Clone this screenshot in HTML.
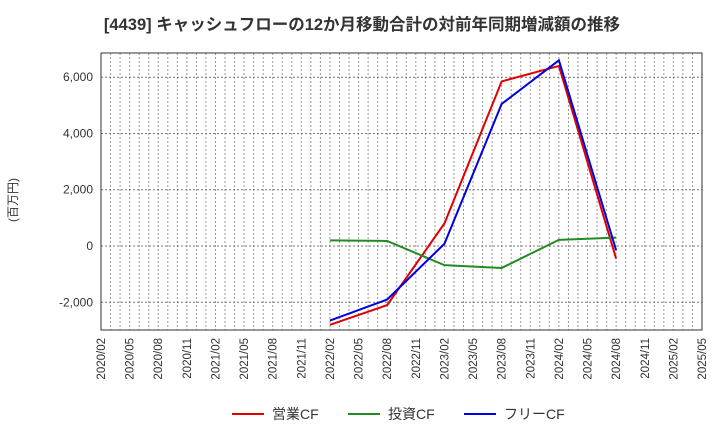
<!DOCTYPE html>
<html><head><meta charset="utf-8"><style>
body{margin:0;background:#fff;font-family:"Liberation Sans","Noto Sans CJK JP",sans-serif;}
</style></head><body>
<svg id="c" width="720" height="440" xmlns="http://www.w3.org/2000/svg" font-family="Liberation Sans, Noto Sans CJK JP, sans-serif">
<text x="362" y="30" text-anchor="middle" font-size="16.5" font-weight="bold" fill="#333">[4439]  キャッシュフローの12か月移動合計の対前年同期増減額の推移</text>
<text transform="translate(17,200) rotate(-90)" text-anchor="middle" font-size="12" fill="#333">(百万円)</text>
<g id="grid"></g><g id="axes"></g><g id="series"></g><g id="legend"></g>
</svg>
<script>
const xLabels=["2020/02","2020/05","2020/08","2020/11","2021/02","2021/05","2021/08","2021/11","2022/02","2022/05","2022/08","2022/11","2023/02","2023/05","2023/08","2023/11","2024/02","2024/05","2024/08","2024/11","2025/02","2025/05"];
const yTicks=[-2000,0,2000,4000,6000];
const dates=["2022/02","2022/08","2023/02","2023/08","2024/02","2024/08"];
const opCF=[-2800,-2100,800,5850,6400,-450];
const invCF=[200,180,-680,-780,220,300];
const freeCF=[-2650,-1900,80,5050,6600,-150];
const seriesNames=["営業CF","投資CF","フリーCF"];
const colors=["#e00000","#228b22","#0000e0"];
const L=101,R=702,T=53,B=330,yMin=-2985,yMax=6860;
const NS="http://www.w3.org/2000/svg";
const m0=2020*12+1, m1=2025*12+4;
function mi(s){const [y,m]=s.split("/").map(Number);return y*12+m-1;}
function X(s){return L+(mi(s)-m0)/(m1-m0)*(R-L);}
function Xm(k){return L+(k-m0)/(m1-m0)*(R-L);}
function Y(v){return B-(v-yMin)/(yMax-yMin)*(B-T);}
function el(t,a,p){const e=document.createElementNS(NS,t);for(const k in a)e.setAttribute(k,a[k]);p.appendChild(e);return e;}
const grid=document.getElementById('grid'),axes=document.getElementById('axes'),ser=document.getElementById('series'),leg=document.getElementById('legend');
for(let k=m0+1;k<m1;k++){const x=Xm(k);const g=el('line',{x1:x,x2:x,y1:T,y2:B,stroke:'#999','stroke-dasharray':'2,2','stroke-width':1},grid);}
yTicks.forEach(v=>{const y=Y(v);const g=el('line',{x1:L,x2:R,y1:y,y2:y,stroke:'#777','stroke-dasharray':'2,2','stroke-width':1},grid);
const t=el('text',{x:L-8,y:y+4,'text-anchor':'end','font-size':12,fill:'#333'},axes);t.textContent=v.toLocaleString('en-US');});
const fr=el('rect',{x:L,y:T,width:R-L,height:B-T,fill:'none',stroke:'#333','stroke-width':1},axes);
xLabels.forEach(s=>{const x=X(s);const t=el('text',{transform:`translate(${x+4},${B+8}) rotate(-90)`,'text-anchor':'end','font-size':11.5,fill:'#333'},axes);t.textContent=s;});
[opCF,invCF,freeCF].forEach((d,i)=>{const p=el('polyline',{points:d.map((v,j)=>X(dates[j])+','+Y(v)).join(' '),fill:'none',stroke:colors[i],'stroke-width':2},ser);});
const lx=[232,348,464];
seriesNames.forEach((n,i)=>{const g=el('g',{},leg);
el('line',{x1:lx[i],x2:lx[i]+32,y1:414,y2:414,stroke:colors[i],'stroke-width':2},g);
const t=el('text',{x:lx[i]+40,y:419,'font-size':14,fill:'#333'},g);t.textContent=n;});
</script>
</body></html>
